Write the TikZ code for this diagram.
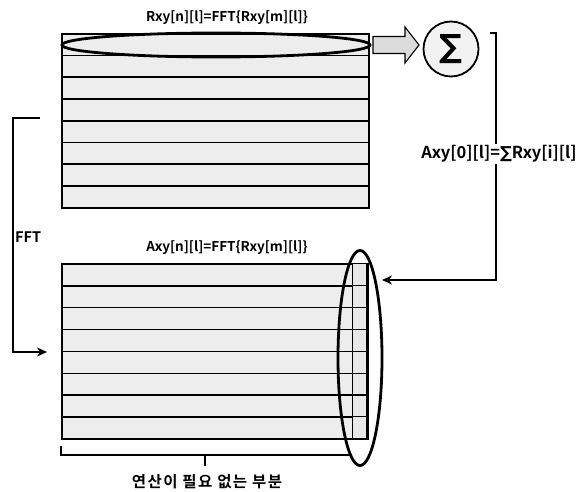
\documentclass[tikz,border=0pt]{standalone}
\usepackage{fontspec}
\setmainfont{Noto Sans CJK KR}[BoldFont={Noto Sans CJK KR Bold}]
\newfontfamily\symfont{DejaVu Sans}
\newfontfamily\notefont{Noto Sans CJK KR Bold}[LetterSpace=9]
\usetikzlibrary{arrows.meta,shapes.geometric}
\begin{document}
\begin{tikzpicture}[x=1pt,y=-1pt,
  rowbox/.style={draw=black,line width=1.6pt,fill=black!7},
  cellbox/.style={draw=black,line width=1.1pt,fill=black!9},
  ring/.style={draw=black,line width=2.8pt},
  wire/.style={draw=black,line width=1.8pt},
  lbl/.style={font=\bfseries\fontsize{13.5}{15}\selectfont,inner sep=1pt}]
\useasboundingbox (0,0) rectangle (581,492);
% top table
\foreach \i in {0,...,7}{
  \node[rowbox,minimum width=307pt,minimum height=21.75pt,inner sep=0pt,anchor=north west] (t\i) at (61,{33+21.75*\i}) {};
}
\node[lbl] (ttitle) at (227,18) {Rxy[n][l]=FFT\{Rxy[m][l]\}};
\draw[ring] (216,45) ellipse [x radius=154, y radius=12];
% block arrow and sigma
\coordinate (barrow) at (373,45);
\draw[line width=1.1pt,fill=black!14,line join=miter] (barrow) ++(0,-8.5) -- (405,36.5) -- (405,27) -- (419,45) -- (405,63) -- (405,53.5) -- (373,53.5) -- cycle;
\node[circle,draw=black,line width=1.8pt,minimum size=55pt,inner sep=0pt,fill=black!5] (sig) at (451,49) {\symfont\bfseries\fontsize{32}{32}\selectfont ∑};
% bottom table
\foreach \i in {0,...,7}{
  \node[rowbox,minimum width=306pt,minimum height=21.9pt,inner sep=0pt,anchor=north west] (b\i) at (61,{263+21.9*\i}) {};
  \node[cellbox,minimum width=14pt,minimum height=21.9pt,inner sep=0pt,anchor=north east] (c\i) at (367,{263+21.9*\i}) {};
}
\node[lbl] (btitle) at (227,248) {Axy[n][l]=FFT\{Rxy[m][l]\}};
\node[ring,ellipse,minimum width=44pt,minimum height=215pt,inner sep=0pt] (ell) at (360,358) {};
% right connector
\coordinate (rtop) at (490,33);
\coordinate (rcorner) at (496,280);
\draw[wire,-{Stealth[length=10pt,width=9pt]}] (rtop) -- (496,33) -- (rcorner) -- (382,280);
\node[lbl,fill=white,font=\bfseries\fontsize{16.5}{18}\selectfont] (asum) at (499,154) {Axy[0][l]={\symfont\bfseries ∑}Rxy[i][l]};
% left connector
\coordinate (ltop) at (40,118);
\coordinate (lcorner) at (13,352);
\draw[wire,-{Stealth[length=10pt,width=9pt]}] (ltop) -- (13,118) -- (lcorner) -- (47,352);
\node[lbl,anchor=west,font=\bfseries\fontsize{14.5}{16}\selectfont] (fft) at (14,237) {FFT};
% bottom bracket
\coordinate (brl) at (61,446);
\coordinate (brr) at (350,455);
\draw[line width=1.3pt] (brl) -- (61,455) -- (brr);
\draw[line width=1.3pt] (205,455) -- (205,466);
\node[inner sep=1pt,font=\notefont\fontsize{15.5}{17}\selectfont] (note) at (207,482) {연산이\ 필요\ 없는\ 부분};
\end{tikzpicture}
\end{document}
